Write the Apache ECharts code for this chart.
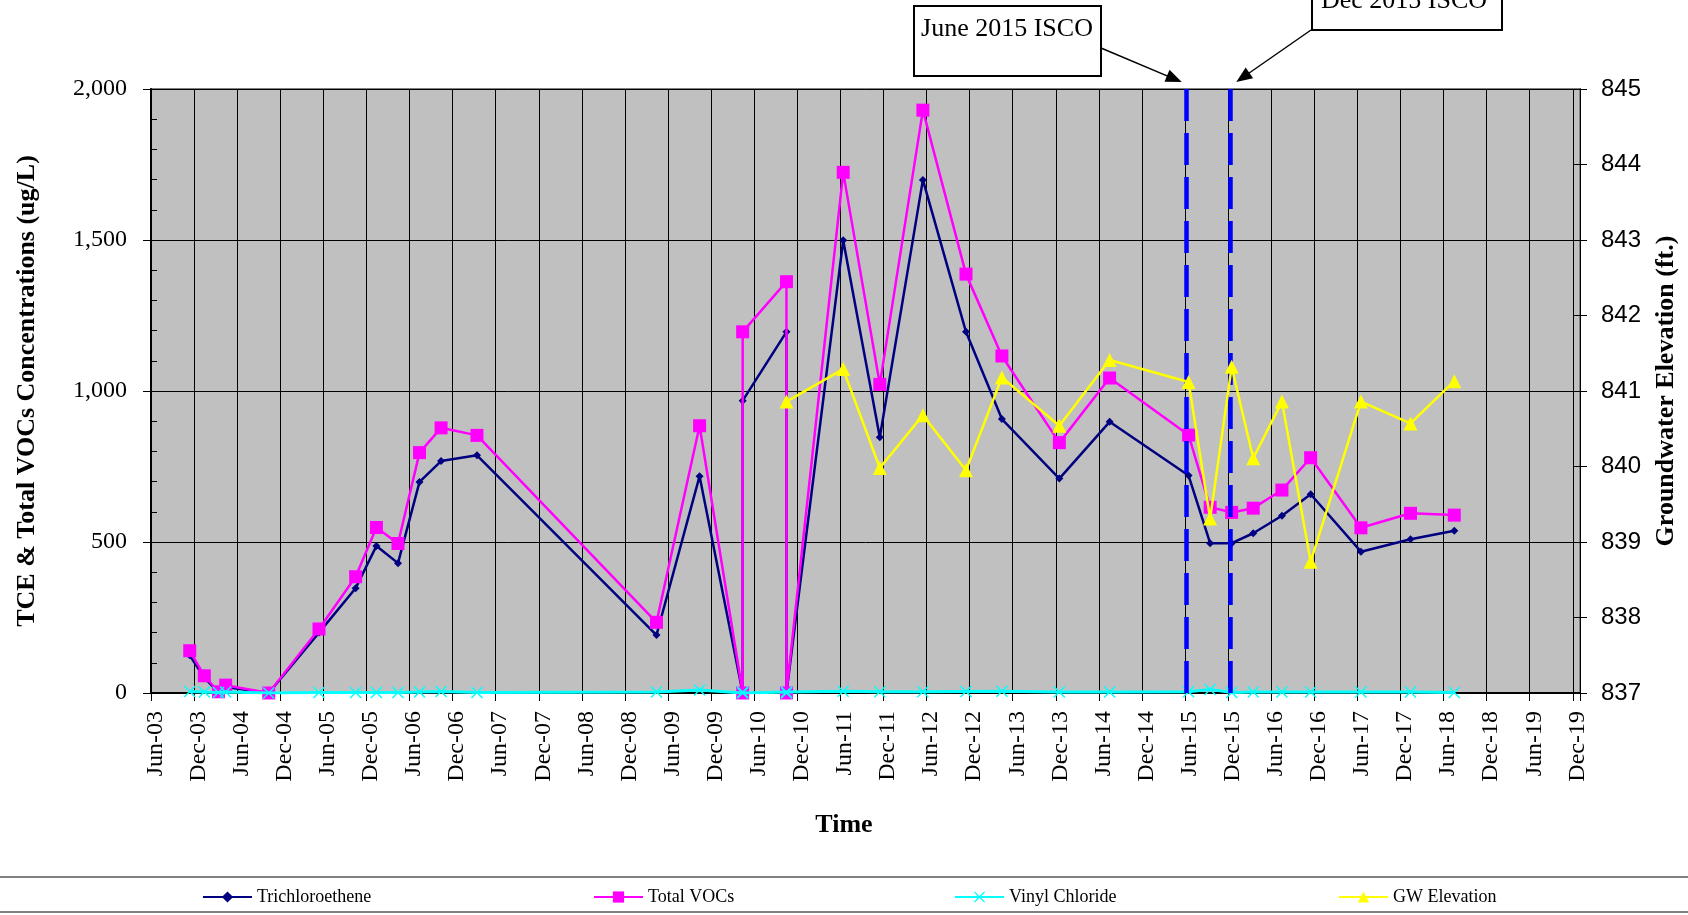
<!DOCTYPE html>
<html>
<head>
<meta charset="utf-8">
<script src="https://cdn.jsdelivr.net/npm/echarts@6/dist/echarts.min.js"></script>
<style>
  html, body { margin: 0; padding: 0; background: #ffffff; }
  #chart { width: 1688px; height: 915px; }
</style>
</head>
<body>
<div id="chart"></div>
<script>
// Sampling events (two results were reported on the same day in Apr-10 and Oct-10)
const sampleDates = [
  '2003-11-13', '2004-01-14', '2004-03-13', '2004-04-13', '2004-10-13',
  '2005-05-13', '2005-10-16', '2006-01-13', '2006-04-13', '2006-07-13',
  '2006-10-13', '2007-03-13', '2009-04-13', '2009-10-13', '2010-04-13',
  '2010-04-13', '2010-10-16', '2010-10-16', '2011-06-13', '2011-11-16',
  '2012-05-16', '2012-11-16', '2013-04-16', '2013-12-16', '2014-07-16',
  '2015-06-16', '2015-09-16', '2015-12-16', '2016-03-16', '2016-07-16',
  '2016-11-16', '2017-06-16', '2018-01-13', '2018-07-16'
];

// Concentrations, ug/L
const trichloroethene = [
  125, 50, 3, 20, 0,
  200, 347, 487, 430, 699,
  768, 787, 192, 718, 0,
  968, 1196, 0, 1499, 847,
  1699, 1196, 907, 710, 898,
  720, 496, 496, 529, 587,
  658, 468, 509, 537
];
const totalVocs = [
  140, 57, 4, 26, 0,
  212, 385, 548, 495, 796,
  878, 853, 234, 885, 0,
  1196, 1362, 0, 1724, 1022,
  1930, 1387, 1116, 829, 1043,
  854, 615, 598, 612, 672,
  779, 547, 595, 589
];
const vinylChloride = [
  5, 3, 2, 3, 0,
  2, 2, 2, 2, 3,
  5, 2, 3, 10, 0,
  3, 3, 0, 6, 4,
  4, 5, 6, 3, 3,
  4, 12, 2, 3, 3,
  3, 3, 3, 2
];
// Groundwater elevation, ft
const gwElevation = [
  null, null, null, null, null,
  null, null, null, null, null,
  null, null, null, null, null,
  null, 840.86, null, 841.29, 839.98,
  840.68, 839.95, 841.18, 840.54, 841.41,
  841.12, 839.31, 841.32, 840.11, 840.86,
  838.74, 840.86, 840.57, 841.13
];

// ISCO injection events
const iscoDates = ['2015-06-04', '2015-12-10'];
const iscoLabels = ['June 2015 ISCO', 'Dec 2015 ISCO'];

const seriesNames = ['Trichloroethene', 'Total VOCs', 'Vinyl Chloride', 'GW Elevation'];

// Half-year tick labels, Jun-03 .. Dec-19
const xTickLabels = [
  'Jun-03', 'Dec-03', 'Jun-04', 'Dec-04', 'Jun-05', 'Dec-05', 'Jun-06', 'Dec-06',
  'Jun-07', 'Dec-07', 'Jun-08', 'Dec-08', 'Jun-09', 'Dec-09', 'Jun-10', 'Dec-10',
  'Jun-11', 'Dec-11', 'Jun-12', 'Dec-12', 'Jun-13', 'Dec-13', 'Jun-14', 'Dec-14',
  'Jun-15', 'Dec-15', 'Jun-16', 'Dec-16', 'Jun-17', 'Dec-17', 'Jun-18', 'Dec-18',
  'Jun-19', 'Dec-19'
];

// x is measured in months after 1 Jun 2003
function monthsSinceStart(s) {
  const p = s.split('-').map(Number);
  return (p[0] - 2003) * 12 + (p[1] - 6) + (p[2] - 1) / 30.4;
}
const sampleX = sampleDates.map(monthsSinceStart);
const pairs = vals => sampleX.map((x, i) => [x, vals[i]]);

const SERIF = 'Liberation Serif';
const SANS = 'Liberation Sans';
const X_MAX = 199; // 1 Jan 2020

const xSymbol = 'path://M0,1 L1,0 L6,5 L11,0 L12,1 L7,6 L12,11 L11,12 L6,7 L1,12 L0,11 L5,6 Z';

const chart = echarts.init(document.getElementById('chart'), null, { renderer: 'canvas' });

const legendLeft = [202, 593, 954, 1338];

const option = {
  animation: false,
  backgroundColor: '#ffffff',
  title: {
    text: 'Time',
    left: 'center',
    top: 812,
    padding: 0,
    textStyle: { fontFamily: SERIF, fontSize: 26, fontWeight: 'bold', color: '#000' }
  },
  legend: seriesNames.map((name, i) => ({
    data: [name],
    left: legendLeft[i],
    top: 888,
    padding: 0,
    itemWidth: 49,
    itemHeight: 14,
    itemGap: 0,
    selectedMode: false,
    textStyle: { fontFamily: SERIF, fontSize: 18, color: '#000', padding: [0, 0, 0, 0] }
  })),
  grid: {
    left: 151,
    right: 108,
    top: 89,
    bottom: 222,
    show: true,
    backgroundColor: '#C0C0C0',
    borderColor: '#808080',
    borderWidth: 2
  },
  xAxis: {
    type: 'value',
    min: 0,
    max: X_MAX,
    interval: 6,
    axisLine: { show: true, onZero: false, lineStyle: { color: '#000', width: 2 } },
    axisTick: { show: true, length: 8, lineStyle: { color: '#000', width: 1 } },
    splitLine: { show: true, lineStyle: { color: '#000', width: 1 } },
    axisLabel: {
      rotate: 90,
      margin: 18,
      fontFamily: SERIF,
      fontSize: 24,
      color: '#000',
      showMaxLabel: true,
      formatter: v => (v % 6 === 0 && xTickLabels[v / 6] ? '{t|' + xTickLabels[v / 6] + '}' : ''),
      rich: {
        t: { fontFamily: SERIF, fontSize: 24, color: '#000', padding: [9, 0, 0, 0] }
      }
    }
  },
  yAxis: [
    {
      type: 'value',
      position: 'left',
      min: 0,
      max: 2000,
      interval: 500,
      name: 'TCE & Total VOCs Concentrations (ug/L)',
      nameLocation: 'middle',
      nameGap: 111,
      nameRotate: 90,
      nameTextStyle: { fontFamily: SERIF, fontSize: 26, fontWeight: 'bold', color: '#000' },
      axisLine: { show: true, lineStyle: { color: '#000', width: 2 } },
      axisTick: { show: true, length: 8, lineStyle: { color: '#000' } },
      splitLine: { show: true, lineStyle: { color: '#000', width: 1 } },
      axisLabel: {
        margin: 24,
        fontFamily: SERIF,
        fontSize: 24,
        color: '#000',
        formatter: v => v.toLocaleString('en-US')
      }
    },
    {
      type: 'value',
      position: 'right',
      min: 837,
      max: 845,
      interval: 1,
      name: 'Groundwater Elevation (ft.)',
      nameLocation: 'middle',
      nameGap: 73,
      nameRotate: 90,
      nameTextStyle: { fontFamily: SERIF, fontSize: 26, fontWeight: 'bold', color: '#000' },
      axisLine: { show: true, lineStyle: { color: '#000', width: 1 } },
      axisTick: { show: true, length: 7, lineStyle: { color: '#000' } },
      splitLine: { show: false },
      axisLabel: { margin: 21, fontFamily: SANS, fontSize: 24, color: '#000' }
    },
    {
      // inner ticks of the concentration axis, every 100 ug/L
      type: 'value',
      position: 'left',
      min: 0,
      max: 2000,
      interval: 100,
      axisLine: { show: false },
      axisLabel: { show: false },
      splitLine: { show: false },
      axisTick: { show: true, inside: true, length: 6, lineStyle: { color: '#000' } }
    },
    {
      // inner ticks of the elevation axis
      type: 'value',
      position: 'right',
      min: 837,
      max: 845,
      interval: 1,
      axisLine: { show: false },
      axisLabel: { show: false },
      splitLine: { show: false },
      axisTick: { show: true, inside: true, length: 7, lineStyle: { color: '#000' } }
    }
  ],
  series: [
    {
      name: 'Trichloroethene',
      type: 'line',
      yAxisIndex: 0,
      data: pairs(trichloroethene),
      symbol: 'diamond',
      symbolSize: 8,
      itemStyle: { color: '#000080' },
      lineStyle: { color: '#000080', width: 2.5 },
      emphasis: { disabled: true },
      z: 2
    },
    {
      name: 'Total VOCs',
      type: 'line',
      yAxisIndex: 0,
      data: pairs(totalVocs),
      symbol: 'rect',
      symbolSize: 13,
      itemStyle: { color: '#FF00FF' },
      lineStyle: { color: '#FF00FF', width: 2.5 },
      emphasis: { disabled: true },
      z: 3
    },
    {
      name: 'Vinyl Chloride',
      type: 'line',
      yAxisIndex: 0,
      data: pairs(vinylChloride),
      symbol: xSymbol,
      symbolSize: 12,
      itemStyle: { color: '#00FFFF' },
      lineStyle: { color: '#00FFFF', width: 3 },
      emphasis: { disabled: true },
      z: 4
    },
    {
      name: 'GW Elevation',
      type: 'line',
      yAxisIndex: 1,
      data: pairs(gwElevation),
      connectNulls: true,
      symbol: 'triangle',
      symbolSize: 14,
      itemStyle: { color: '#FFFF00' },
      lineStyle: { color: '#FFFF00', width: 2.5 },
      emphasis: { disabled: true },
      z: 5,
      markLine: {
        silent: true,
        symbol: ['none', 'none'],
        label: { show: false },
        lineStyle: { color: '#0000FF', width: 4.5, type: [32, 12] },
        data: iscoDates.map(d => ({ xAxis: monthsSinceStart(d) }))
      }
    }
  ]
};

chart.setOption(option);

// Callout boxes with arrows pointing at the ISCO event lines
function arrow(x0, y0, x1, y1) {
  const dx = x1 - x0, dy = y1 - y0;
  const len = Math.hypot(dx, dy);
  const ux = dx / len, uy = dy / len;
  const hl = 16, hw = 6.5;
  const bx = x1 - ux * hl, by = y1 - uy * hl;
  return [
    { type: 'line', shape: { x1: x0, y1: y0, x2: bx + ux * 2, y2: by + uy * 2 },
      style: { stroke: '#000', lineWidth: 1.5 }, z: 100 },
    { type: 'polygon',
      shape: { points: [[x1, y1], [bx - uy * hw, by + ux * hw], [bx + uy * hw, by - ux * hw]] },
      style: { fill: '#000' }, z: 100 }
  ];
}

const plotTop = chart.convertToPixel({ yAxisIndex: 0 }, 2000);
const iscoPx = iscoDates.map(d => chart.convertToPixel({ xAxisIndex: 0 }, monthsSinceStart(d)));

const boxStyle = { fill: '#ffffff', stroke: '#000', lineWidth: 2 };
const labelStyle = { fontFamily: SERIF, fontSize: 26, fill: '#000', align: 'center', verticalAlign: 'middle' };

chart.setOption({
  graphic: [
    // legend frame
    { type: 'line', shape: { x1: 0, y1: 877, x2: 1688, y2: 877 }, style: { stroke: '#808080', lineWidth: 2 } },
    { type: 'line', shape: { x1: 0, y1: 912, x2: 1688, y2: 912 }, style: { stroke: '#808080', lineWidth: 2 } },
    // June 2015 callout
    { type: 'rect', shape: { x: 914, y: 6, width: 187, height: 70 }, style: boxStyle, z: 100 },
    { type: 'text', x: 1007, y: 29, style: Object.assign({ text: iscoLabels[0] }, labelStyle), z: 101 },
    ...arrow(1101, 48, iscoPx[0] - 4, plotTop - 7),
    // Dec 2015 callout
    { type: 'rect', shape: { x: 1312, y: -40, width: 190, height: 70 }, style: boxStyle, z: 100 },
    { type: 'text', x: 1404, y: 1, style: Object.assign({ text: iscoLabels[1] }, labelStyle), z: 101 },
    ...arrow(1311, 30, iscoPx[1] + 6, plotTop - 7)
  ]
});
</script>
</body>
</html>
